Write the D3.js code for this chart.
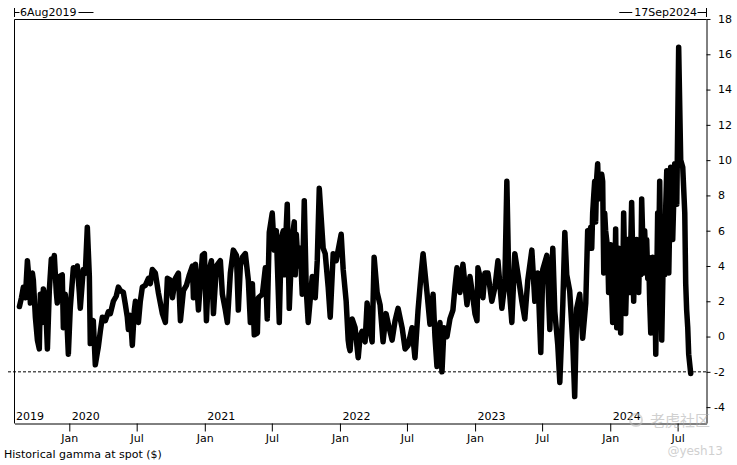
<!DOCTYPE html>
<html><head><meta charset="utf-8">
<script src="https://cdn.jsdelivr.net/npm/d3@7"></script>
<style>body{margin:0;background:#fff;} svg text{font-family:"DejaVu Sans",Verdana,sans-serif;fill:#000;}</style>
</head><body><svg id="c" width="737" height="465"></svg>
<script>
// ---- data ----
const startDate = "2019-08-06";
const endDate = "2024-09-17";
const yTicks = [-4,-2,0,2,4,6,8,10,12,14,16,18];
const refLevel = -2;
const yearLabels = [2019,2020,2021,2022,2023,2024];
const chartTitle = "Historical gamma at spot ($)";
// observation time (decimal year)
const t = [
2019.631,2019.646,2019.660,2019.675,2019.690,2019.705,2019.712,2019.727,2019.734,2019.749,
2019.764,2019.778,2019.786,2019.801,2019.808,2019.823,2019.838,2019.852,2019.867,2019.875,
2019.889,2019.904,2019.911,2019.926,2019.948,2019.956,2019.970,2019.978,2019.993,2020.007,
2020.030,2020.044,2020.059,2020.074,2020.081,2020.103,2020.118,2020.133,2020.148,2020.155,
2020.163,2020.177,2020.192,2020.207,2020.214,2020.229,2020.244,2020.266,2020.288,2020.303,
2020.325,2020.347,2020.362,2020.377,2020.399,2020.414,2020.428,2020.436,2020.451,2020.465,
2020.480,2020.488,2020.510,2020.524,2020.539,2020.561,2020.584,2020.598,2020.613,2020.635,
2020.657,2020.687,2020.709,2020.724,2020.746,2020.761,2020.783,2020.805,2020.820,2020.842,
2020.864,2020.886,2020.909,2020.916,2020.931,2020.953,2020.982,2020.997,2021.012,2021.027,
2021.049,2021.064,2021.086,2021.115,2021.130,2021.152,2021.167,2021.189,2021.211,2021.234,
2021.248,2021.263,2021.278,2021.300,2021.322,2021.337,2021.352,2021.366,2021.389,2021.396,
2021.426,2021.448,2021.462,2021.477,2021.499,2021.514,2021.529,2021.536,2021.551,2021.566,2021.581,2021.588,
2021.595,2021.610,2021.625,2021.647,2021.662,2021.669,2021.677,2021.684,2021.699,2021.706,2021.721,2021.736,2021.751,
2021.765,2021.795,2021.817,2021.832,2021.847,2021.876,2021.891,2021.913,2021.928,2021.950,
2021.972,2022.009,2022.024,2022.046,2022.061,2022.068,2022.075,2022.090,2022.112,2022.135,
2022.149,2022.164,2022.186,2022.201,2022.223,2022.238,2022.253,2022.275,2022.297,2022.319,
2022.341,2022.364,2022.386,2022.408,2022.430,2022.460,2022.482,2022.504,2022.533,2022.555,
2022.578,2022.600,2022.615,2022.644,2022.666,2022.689,2022.703,2022.718,2022.740,2022.755,
2022.770,2022.792,2022.814,2022.836,2022.851,2022.866,2022.888,2022.910,2022.940,2022.962,
2022.977,2022.999,2023.014,2023.021,2023.036,2023.058,2023.073,2023.095,2023.124,2023.147,
2023.169,2023.198,2023.220,2023.235,2023.250,2023.272,2023.294,2023.316,2023.346,2023.368,
2023.390,2023.420,2023.442,2023.464,2023.486,2023.501,2023.531,2023.553,2023.575,2023.590,
2023.612,2023.627,2023.649,2023.664,2023.678,2023.700,2023.723,2023.737,2023.752,2023.774,
2023.796,2023.819,2023.833,2023.848,2023.855,2023.863,2023.870,2023.878,2023.885,2023.892,
2023.900,2023.907,2023.915,2023.922,2023.937,2023.944,
2023.952,2023.959,2023.966,2023.981,2023.988,2023.996,2024.003,2024.011,2024.018,2024.025,
2024.033,2024.040,2024.048,2024.062,2024.077,2024.085,2024.092,2024.099,2024.114,2024.129,
2024.144,2024.158,2024.173,2024.181,2024.188,2024.195,2024.210,2024.217,2024.225,2024.232,
2024.247,2024.254,2024.262,2024.269,2024.277,2024.284,2024.291,2024.299,2024.313,2024.321,
2024.328,2024.336,2024.350,2024.358,2024.365,2024.380,2024.395,2024.402,2024.410,2024.417,
2024.432,2024.446,2024.461,2024.476,2024.491,2024.505,2024.520,2024.535,2024.550,2024.557,
2024.564,2024.572,2024.579,2024.594
];
// historical gamma at spot ($)
const gamma = [
1.7,2.2,2.8,2.2,4.3,3.0,1.9,3.6,3.2,1.1,
-0.2,-0.7,2.4,0.8,2.7,2.2,-0.7,2.6,4.4,3.5,
4.6,2.5,1.9,3.4,3.5,0.5,2.4,1.6,-1.0,1.6,
3.9,3.6,4.0,2.5,1.6,3.8,3.6,6.2,3.4,-0.4,
0.5,0.9,-1.6,-0.9,-0.6,0.3,1.1,0.9,1.4,1.3,
2.0,2.3,2.8,2.6,2.5,1.8,1.1,0.4,1.2,-0.5,
1.5,2.0,0.8,2.0,2.8,2.9,3.3,3.0,3.8,3.6,
2.5,1.3,0.8,3.3,3.2,2.2,3.3,3.6,0.9,2.6,
2.9,3.5,4.0,2.2,4.1,1.5,4.6,4.7,0.9,3.6,
4.3,1.3,4.0,4.3,2.4,1.5,0.8,3.6,4.9,4.6,
1.5,4.0,4.5,4.7,3.2,0.8,3.0,0.1,0.2,2.2,
2.4,3.9,1.0,5.9,7.0,4.9,6.0,4.3,0.8,5.6,6.0,3.5,
4.9,7.5,1.6,5.6,6.5,3.5,5.8,4.9,4.0,5.0,2.4,7.7,2.6,
0.8,3.4,2.2,4.3,8.4,5.0,4.7,2.8,1.1,4.7,
4.3,5.8,3.8,2.0,-0.2,-0.6,-0.8,1.0,0.5,-1.2,
0.0,0.3,-0.3,1.9,0.3,-0.3,4.5,2.5,1.8,-0.3,
1.3,0.5,-0.2,0.9,1.6,0.5,-0.7,-0.5,0.5,-1.2,
1.5,3.5,4.7,2.5,0.7,2.4,0.0,-1.7,0.8,-2.0,
0.5,0.0,1.0,1.5,2.8,3.9,2.5,4.1,1.8,3.4,
2.6,1.3,0.9,3.9,3.4,2.2,3.6,3.6,2.0,2.8,
4.3,1.6,3.0,8.8,3.0,0.8,4.7,3.6,2.0,1.0,
3.2,4.9,2.0,3.6,-0.9,3.8,4.6,0.4,5.0,1.4,
-0.5,-2.6,1.8,5.9,3.5,2.6,-0.4,-3.4,1.6,2.4,
-0.1,1.9,6.0,5.5,6.2,5.0,7.0,8.0,8.8,6.5,
9.0,9.8,7.8,8.5,9.2,8.8,
3.6,7.0,6.0,5.0,2.5,3.6,5.2,2.5,0.8,4.5,
2.5,6.1,0.5,5.0,0.2,5.0,2.8,7.0,1.3,5.5,
2.5,7.6,2.0,4.5,3.0,5.5,2.5,5.0,3.5,7.8,
3.6,6.0,4.5,5.5,3.3,4.5,2.0,0.2,4.5,2.0,
3.5,-1.0,7.0,5.0,8.8,-0.2,6.0,3.5,7.5,9.4,
3.6,9.6,5.5,9.8,7.5,16.4,10.0,9.6,7.0,3.0,
1.5,0.5,-1.0,-2.1
];

// ---- chart ----
function decYear(d){
  const yr = Math.floor(d);
  const s = Date.UTC(yr,0,1), e = Date.UTC(yr+1,0,1);
  return new Date(s + (d-yr)*(e-s));
}
const data = t.map((d,i)=>({date:decYear(d), v:gamma[i]})).sort((a,b)=>a.date-b.date);
const svg = d3.select("#c");
svg.append("rect").attr("width",737).attr("height",465).attr("fill","#fff");

const d0 = new Date(startDate), d1 = new Date(endDate);
const x = d3.scaleUtc().domain([d0,d1]).range([14.5,706.5]);
const y = d3.scaleLinear().domain([-4.9,18]).range([423,19]);

// frame
const fr = svg.append("g").attr("stroke","#000").attr("stroke-width",1).attr("fill","none");
fr.append("line").attr("x1",14.5).attr("x2",14.5).attr("y1",19.5).attr("y2",423.5);
fr.append("line").attr("x1",14.5).attr("x2",706.5).attr("y1",19.5).attr("y2",19.5);

// bottom axis
const xAxis = d3.axisBottom(x).tickValues(d3.utcMonth.every(6).range(d0,d1))
  .tickFormat(d3.utcFormat("%b")).tickSize(8).tickPadding(3).tickSizeOuter(0);
const gx = svg.append("g").attr("transform","translate(0,423.5)").call(xAxis);
gx.select(".domain").attr("stroke","#000");
gx.selectAll(".tick line").attr("stroke","#000");
gx.selectAll("text").attr("font-size",11).attr("font-family","DejaVu Sans").attr("fill","#000");

// right axis
const yAxis = d3.axisRight(y).tickValues(yTicks).tickSize(4).tickFormat("").tickSizeOuter(0);
const gy = svg.append("g").attr("transform","translate(706.5,0)").call(yAxis);
gy.select(".domain").attr("stroke","#000");
gy.selectAll(".tick line").attr("stroke","#000");
svg.append("g").selectAll("text").data(yTicks).join("text")
  .attr("x",d=>d<0?714:718)
  .attr("y",d=>y(d)).attr("dy","0.35em").attr("font-size",11)
  .text(d=>d<0?"-"+Math.abs(d):d);

// year labels
svg.append("g").selectAll("text").data(yearLabels).join("text")
  .attr("x",d=>{const dd=new Date(Date.UTC(d,0,1)); return (dd<d0? x(d0)+1.5 : x(dd)+2.5);})
  .attr("y",420).attr("font-size",11).text(d=>d);

// reference line
svg.append("line").attr("x1",8).attr("x2",706).attr("y1",y(refLevel)).attr("y2",y(refLevel))
  .attr("stroke","#000").attr("stroke-width",1).attr("stroke-dasharray","3,2");

// series
svg.append("path").datum(data)
  .attr("d",d3.line().x(d=>x(d.date)).y(d=>y(d.v)))
  .attr("fill","none").attr("stroke","#000").attr("stroke-width",5.5)
  .attr("stroke-linejoin","round").attr("stroke-linecap","round");

// top date range markers
const fmt = d3.utcFormat("%-d%b%Y");
const topG = svg.append("g");
const tl = topG.append("text").attr("x",x(d0)+5.5).attr("y",16).attr("font-size",11).text(fmt(d0));
const tr = topG.append("text").attr("x",x(d1)-9.5).attr("y",16).attr("font-size",11).attr("text-anchor","end").text(fmt(d1));
const wl = tl.node().getComputedTextLength(), wr = tr.node().getComputedTextLength();
const tk = topG.append("g").attr("stroke","#000").attr("stroke-width",1);
tk.append("line").attr("x1",x(d0)).attr("x2",x(d0)).attr("y1",8).attr("y2",17);
tk.append("line").attr("x1",x(d0)).attr("x2",x(d0)+5).attr("y1",12.5).attr("y2",12.5);
tk.append("line").attr("x1",x(d0)+5.5+wl+2).attr("x2",x(d0)+5.5+wl+17).attr("y1",12.5).attr("y2",12.5);
tk.append("line").attr("x1",x(d1)).attr("x2",x(d1)).attr("y1",8).attr("y2",17);
tk.append("line").attr("x1",x(d1)-9).attr("x2",x(d1)).attr("y1",12.5).attr("y2",12.5);
tk.append("line").attr("x1",x(d1)-9.5-wr-15).attr("x2",x(d1)-9.5-wr-2).attr("y1",12.5).attr("y2",12.5);

// title
svg.append("text").attr("x",4).attr("y",458).attr("font-size",11).text(chartTitle);

// watermark
const wm = svg.append("g").attr("opacity",0.55);
wm.append("circle").attr("cx",636).attr("cy",420).attr("r",6).attr("fill","none").attr("stroke","#bbb").attr("stroke-width",2);
wm.append("text").attr("x",650).attr("y",426).attr("font-size",15).style("font-family","Noto Sans CJK SC").style("fill","#aaa").text("老虎社区");
wm.append("text").attr("x",723).attr("y",455).attr("font-size",12).attr("text-anchor","end").style("fill","#aaa").text("@yesh13");
</script></body></html>
